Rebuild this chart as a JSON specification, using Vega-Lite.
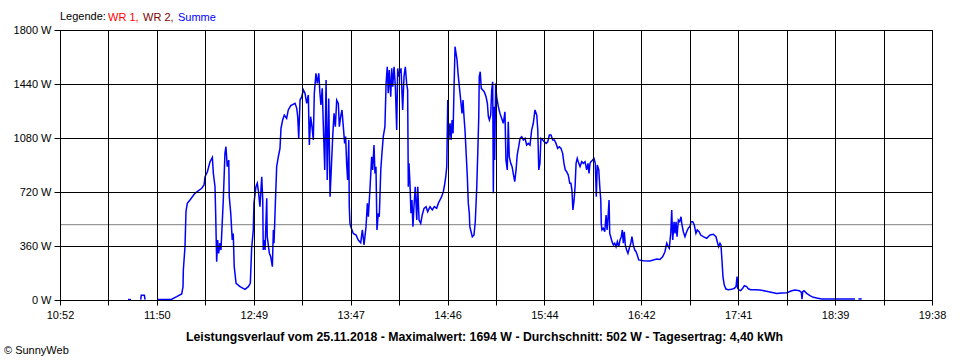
{
  "$schema": "https://vega.github.io/schema/vega-lite/v6.json",
  "width": 872,
  "height": 270,
  "autosize": {"type": "none"},
  "padding": {"left": 60, "top": 30, "right": 28, "bottom": 60},
  "background": "white",
  "config": {
    "view": {"stroke": "black", "strokeWidth": 1},
    "font": "Liberation Sans"
  },
  "title": {"text": "© SunnyWeb", "orient": "bottom", "anchor": "start", "frame": "group", "dx": -56, "offset": 3, "fontSize": 11, "fontWeight": "normal", "color": "black", "font": "Liberation Sans"},
  "layer": [
    {
      "data": {"values": [{"avg": 502}]},
      "mark": {"type": "rule", "color": "#808080", "strokeWidth": 1},
      "encoding": {"y": {"field": "avg", "type": "quantitative", "title": null}}
    },
    {
      "data": {"values": [
        {"minute":693.0,"watt":3,"seg":"a","series":"Summe"},
        {"minute":694.8,"watt":3,"seg":"a","series":"Summe"},
        {"minute":700.7,"watt":3,"seg":"b","series":"Summe"},
        {"minute":701.0,"watt":31,"seg":"b","series":"Summe"},
        {"minute":702.9,"watt":31,"seg":"b","series":"Summe"},
        {"minute":703.3,"watt":3,"seg":"b","series":"Summe"},
        {"minute":711.1,"watt":3,"seg":"c","series":"Summe"},
        {"minute":719.4,"watt":5,"seg":"c","series":"Summe"},
        {"minute":722.4,"watt":22,"seg":"c","series":"Summe"},
        {"minute":725.4,"watt":40,"seg":"c","series":"Summe"},
        {"minute":726.2,"watt":88,"seg":"c","series":"Summe"},
        {"minute":726.4,"watt":200,"seg":"c","series":"Summe"},
        {"minute":727.4,"watt":355,"seg":"c","series":"Summe"},
        {"minute":728.0,"watt":590,"seg":"c","series":"Summe"},
        {"minute":728.8,"watt":645,"seg":"c","series":"Summe"},
        {"minute":730.4,"watt":667,"seg":"c","series":"Summe"},
        {"minute":733.4,"watt":711,"seg":"c","series":"Summe"},
        {"minute":737.5,"watt":745,"seg":"c","series":"Summe"},
        {"minute":738.9,"watt":767,"seg":"c","series":"Summe"},
        {"minute":739.5,"watt":822,"seg":"c","series":"Summe"},
        {"minute":740.9,"watt":855,"seg":"c","series":"Summe"},
        {"minute":742.5,"watt":922,"seg":"c","series":"Summe"},
        {"minute":743.9,"watt":951,"seg":"c","series":"Summe"},
        {"minute":744.5,"watt":845,"seg":"c","series":"Summe"},
        {"minute":745.5,"watt":755,"seg":"c","series":"Summe"},
        {"minute":745.9,"watt":578,"seg":"c","series":"Summe"},
        {"minute":746.5,"watt":255,"seg":"c","series":"Summe"},
        {"minute":747.1,"watt":400,"seg":"c","series":"Summe"},
        {"minute":747.7,"watt":311,"seg":"c","series":"Summe"},
        {"minute":748.5,"watt":380,"seg":"c","series":"Summe"},
        {"minute":749.1,"watt":333,"seg":"c","series":"Summe"},
        {"minute":750.5,"watt":667,"seg":"c","series":"Summe"},
        {"minute":751.5,"watt":978,"seg":"c","series":"Summe"},
        {"minute":752.1,"watt":1022,"seg":"c","series":"Summe"},
        {"minute":752.9,"watt":889,"seg":"c","series":"Summe"},
        {"minute":753.8,"watt":933,"seg":"c","series":"Summe"},
        {"minute":754.1,"watt":689,"seg":"c","series":"Summe"},
        {"minute":755.0,"watt":578,"seg":"c","series":"Summe"},
        {"minute":755.9,"watt":400,"seg":"c","series":"Summe"},
        {"minute":756.5,"watt":444,"seg":"c","series":"Summe"},
        {"minute":757.1,"watt":222,"seg":"c","series":"Summe"},
        {"minute":758.2,"watt":111,"seg":"c","series":"Summe"},
        {"minute":760.6,"watt":89,"seg":"c","series":"Summe"},
        {"minute":763.6,"watt":71,"seg":"c","series":"Summe"},
        {"minute":765.6,"watt":89,"seg":"c","series":"Summe"},
        {"minute":766.8,"watt":111,"seg":"c","series":"Summe"},
        {"minute":767.6,"watt":344,"seg":"c","series":"Summe"},
        {"minute":768.6,"watt":467,"seg":"c","series":"Summe"},
        {"minute":769.0,"watt":644,"seg":"c","series":"Summe"},
        {"minute":770.2,"watt":755,"seg":"c","series":"Summe"},
        {"minute":771.0,"watt":778,"seg":"c","series":"Summe"},
        {"minute":771.6,"watt":733,"seg":"c","series":"Summe"},
        {"minute":772.6,"watt":622,"seg":"c","series":"Summe"},
        {"minute":773.7,"watt":822,"seg":"c","series":"Summe"},
        {"minute":774.3,"watt":667,"seg":"c","series":"Summe"},
        {"minute":774.6,"watt":333,"seg":"c","series":"Summe"},
        {"minute":775.2,"watt":400,"seg":"c","series":"Summe"},
        {"minute":775.7,"watt":333,"seg":"c","series":"Summe"},
        {"minute":776.7,"watt":678,"seg":"c","series":"Summe"},
        {"minute":777.0,"watt":422,"seg":"c","series":"Summe"},
        {"minute":778.3,"watt":311,"seg":"c","series":"Summe"},
        {"minute":779.1,"watt":289,"seg":"c","series":"Summe"},
        {"minute":780.1,"watt":222,"seg":"c","series":"Summe"},
        {"minute":780.7,"watt":467,"seg":"c","series":"Summe"},
        {"minute":781.1,"watt":378,"seg":"c","series":"Summe"},
        {"minute":781.9,"watt":644,"seg":"c","series":"Summe"},
        {"minute":782.7,"watt":889,"seg":"c","series":"Summe"},
        {"minute":783.7,"watt":955,"seg":"c","series":"Summe"},
        {"minute":784.7,"watt":1011,"seg":"c","series":"Summe"},
        {"minute":785.3,"watt":1144,"seg":"c","series":"Summe"},
        {"minute":786.3,"watt":1200,"seg":"c","series":"Summe"},
        {"minute":787.3,"watt":1233,"seg":"c","series":"Summe"},
        {"minute":788.7,"watt":1211,"seg":"c","series":"Summe"},
        {"minute":789.7,"watt":1267,"seg":"c","series":"Summe"},
        {"minute":791.2,"watt":1296,"seg":"c","series":"Summe"},
        {"minute":793.8,"watt":1311,"seg":"c","series":"Summe"},
        {"minute":794.8,"watt":1278,"seg":"c","series":"Summe"},
        {"minute":795.4,"watt":1222,"seg":"c","series":"Summe"},
        {"minute":796.0,"watt":1078,"seg":"c","series":"Summe"},
        {"minute":796.8,"watt":1333,"seg":"c","series":"Summe"},
        {"minute":797.8,"watt":1355,"seg":"c","series":"Summe"},
        {"minute":798.8,"watt":1400,"seg":"c","series":"Summe"},
        {"minute":799.8,"watt":1378,"seg":"c","series":"Summe"},
        {"minute":800.8,"watt":1311,"seg":"c","series":"Summe"},
        {"minute":801.8,"watt":1367,"seg":"c","series":"Summe"},
        {"minute":802.4,"watt":1033,"seg":"c","series":"Summe"},
        {"minute":803.2,"watt":1222,"seg":"c","series":"Summe"},
        {"minute":804.0,"watt":1156,"seg":"c","series":"Summe"},
        {"minute":804.8,"watt":1067,"seg":"c","series":"Summe"},
        {"minute":805.4,"watt":1378,"seg":"c","series":"Summe"},
        {"minute":806.4,"watt":1511,"seg":"c","series":"Summe"},
        {"minute":807.2,"watt":1444,"seg":"c","series":"Summe"},
        {"minute":808.1,"watt":1511,"seg":"c","series":"Summe"},
        {"minute":808.8,"watt":1378,"seg":"c","series":"Summe"},
        {"minute":809.4,"watt":1300,"seg":"c","series":"Summe"},
        {"minute":810.2,"watt":1411,"seg":"c","series":"Summe"},
        {"minute":810.8,"watt":1178,"seg":"c","series":"Summe"},
        {"minute":811.7,"watt":867,"seg":"c","series":"Summe"},
        {"minute":812.5,"watt":1467,"seg":"c","series":"Summe"},
        {"minute":813.2,"watt":800,"seg":"c","series":"Summe"},
        {"minute":814.1,"watt":1344,"seg":"c","series":"Summe"},
        {"minute":814.9,"watt":689,"seg":"c","series":"Summe"},
        {"minute":815.7,"watt":889,"seg":"c","series":"Summe"},
        {"minute":816.5,"watt":1089,"seg":"c","series":"Summe"},
        {"minute":817.3,"watt":1244,"seg":"c","series":"Summe"},
        {"minute":818.1,"watt":1156,"seg":"c","series":"Summe"},
        {"minute":818.9,"watt":1333,"seg":"c","series":"Summe"},
        {"minute":819.9,"watt":1311,"seg":"c","series":"Summe"},
        {"minute":820.5,"watt":1156,"seg":"c","series":"Summe"},
        {"minute":821.3,"watt":1222,"seg":"c","series":"Summe"},
        {"minute":822.1,"watt":1267,"seg":"c","series":"Summe"},
        {"minute":822.9,"watt":1156,"seg":"c","series":"Summe"},
        {"minute":823.7,"watt":1044,"seg":"c","series":"Summe"},
        {"minute":824.3,"watt":1089,"seg":"c","series":"Summe"},
        {"minute":824.9,"watt":911,"seg":"c","series":"Summe"},
        {"minute":825.5,"watt":800,"seg":"c","series":"Summe"},
        {"minute":826.2,"watt":1067,"seg":"c","series":"Summe"},
        {"minute":826.5,"watt":622,"seg":"c","series":"Summe"},
        {"minute":826.9,"watt":511,"seg":"c","series":"Summe"},
        {"minute":827.4,"watt":489,"seg":"c","series":"Summe"},
        {"minute":828.9,"watt":444,"seg":"c","series":"Summe"},
        {"minute":830.6,"watt":433,"seg":"c","series":"Summe"},
        {"minute":831.9,"watt":400,"seg":"c","series":"Summe"},
        {"minute":833.4,"watt":382,"seg":"c","series":"Summe"},
        {"minute":834.4,"watt":467,"seg":"c","series":"Summe"},
        {"minute":835.4,"watt":367,"seg":"c","series":"Summe"},
        {"minute":836.6,"watt":489,"seg":"c","series":"Summe"},
        {"minute":837.4,"watt":644,"seg":"c","series":"Summe"},
        {"minute":838.0,"watt":555,"seg":"c","series":"Summe"},
        {"minute":839.0,"watt":745,"seg":"c","series":"Summe"},
        {"minute":840.0,"watt":955,"seg":"c","series":"Summe"},
        {"minute":840.6,"watt":867,"seg":"c","series":"Summe"},
        {"minute":841.4,"watt":1033,"seg":"c","series":"Summe"},
        {"minute":842.0,"watt":844,"seg":"c","series":"Summe"},
        {"minute":842.6,"watt":889,"seg":"c","series":"Summe"},
        {"minute":843.2,"watt":467,"seg":"c","series":"Summe"},
        {"minute":844.0,"watt":578,"seg":"c","series":"Summe"},
        {"minute":844.6,"watt":555,"seg":"c","series":"Summe"},
        {"minute":845.5,"watt":867,"seg":"c","series":"Summe"},
        {"minute":846.2,"watt":978,"seg":"c","series":"Summe"},
        {"minute":847.0,"watt":1089,"seg":"c","series":"Summe"},
        {"minute":848.0,"watt":1156,"seg":"c","series":"Summe"},
        {"minute":848.7,"watt":1444,"seg":"c","series":"Summe"},
        {"minute":849.4,"watt":1555,"seg":"c","series":"Summe"},
        {"minute":850.0,"watt":1378,"seg":"c","series":"Summe"},
        {"minute":850.6,"watt":1533,"seg":"c","series":"Summe"},
        {"minute":851.5,"watt":1355,"seg":"c","series":"Summe"},
        {"minute":852.1,"watt":1544,"seg":"c","series":"Summe"},
        {"minute":852.7,"watt":1422,"seg":"c","series":"Summe"},
        {"minute":853.5,"watt":1555,"seg":"c","series":"Summe"},
        {"minute":854.3,"watt":1422,"seg":"c","series":"Summe"},
        {"minute":855.1,"watt":1133,"seg":"c","series":"Summe"},
        {"minute":855.7,"watt":1544,"seg":"c","series":"Summe"},
        {"minute":856.3,"watt":1489,"seg":"c","series":"Summe"},
        {"minute":856.7,"watt":1511,"seg":"c","series":"Summe"},
        {"minute":857.7,"watt":1544,"seg":"c","series":"Summe"},
        {"minute":858.7,"watt":1267,"seg":"c","series":"Summe"},
        {"minute":859.5,"watt":1489,"seg":"c","series":"Summe"},
        {"minute":860.3,"watt":1555,"seg":"c","series":"Summe"},
        {"minute":861.1,"watt":1444,"seg":"c","series":"Summe"},
        {"minute":861.7,"watt":1400,"seg":"c","series":"Summe"},
        {"minute":862.1,"watt":755,"seg":"c","series":"Summe"},
        {"minute":862.5,"watt":911,"seg":"c","series":"Summe"},
        {"minute":863.1,"watt":778,"seg":"c","series":"Summe"},
        {"minute":863.7,"watt":578,"seg":"c","series":"Summe"},
        {"minute":864.3,"watt":667,"seg":"c","series":"Summe"},
        {"minute":864.9,"watt":489,"seg":"c","series":"Summe"},
        {"minute":865.5,"watt":622,"seg":"c","series":"Summe"},
        {"minute":866.3,"watt":755,"seg":"c","series":"Summe"},
        {"minute":867.2,"watt":533,"seg":"c","series":"Summe"},
        {"minute":867.8,"watt":755,"seg":"c","series":"Summe"},
        {"minute":868.6,"watt":533,"seg":"c","series":"Summe"},
        {"minute":869.6,"watt":511,"seg":"c","series":"Summe"},
        {"minute":870.5,"watt":567,"seg":"c","series":"Summe"},
        {"minute":871.6,"watt":611,"seg":"c","series":"Summe"},
        {"minute":872.8,"watt":622,"seg":"c","series":"Summe"},
        {"minute":873.8,"watt":589,"seg":"c","series":"Summe"},
        {"minute":875.2,"watt":622,"seg":"c","series":"Summe"},
        {"minute":876.6,"watt":600,"seg":"c","series":"Summe"},
        {"minute":877.8,"watt":622,"seg":"c","series":"Summe"},
        {"minute":879.2,"watt":611,"seg":"c","series":"Summe"},
        {"minute":880.2,"watt":644,"seg":"c","series":"Summe"},
        {"minute":881.2,"watt":667,"seg":"c","series":"Summe"},
        {"minute":882.2,"watt":689,"seg":"c","series":"Summe"},
        {"minute":883.2,"watt":722,"seg":"c","series":"Summe"},
        {"minute":883.8,"watt":755,"seg":"c","series":"Summe"},
        {"minute":884.7,"watt":822,"seg":"c","series":"Summe"},
        {"minute":885.3,"watt":889,"seg":"c","series":"Summe"},
        {"minute":885.9,"watt":1333,"seg":"c","series":"Summe"},
        {"minute":886.5,"watt":1067,"seg":"c","series":"Summe"},
        {"minute":887.3,"watt":1178,"seg":"c","series":"Summe"},
        {"minute":887.9,"watt":1067,"seg":"c","series":"Summe"},
        {"minute":888.5,"watt":1200,"seg":"c","series":"Summe"},
        {"minute":889.1,"watt":1111,"seg":"c","series":"Summe"},
        {"minute":889.7,"watt":1422,"seg":"c","series":"Summe"},
        {"minute":890.3,"watt":1689,"seg":"c","series":"Summe"},
        {"minute":890.9,"watt":1644,"seg":"c","series":"Summe"},
        {"minute":891.5,"watt":1600,"seg":"c","series":"Summe"},
        {"minute":892.1,"watt":1511,"seg":"c","series":"Summe"},
        {"minute":892.7,"watt":1444,"seg":"c","series":"Summe"},
        {"minute":893.3,"watt":1378,"seg":"c","series":"Summe"},
        {"minute":893.9,"watt":1311,"seg":"c","series":"Summe"},
        {"minute":894.5,"watt":1244,"seg":"c","series":"Summe"},
        {"minute":895.1,"watt":1333,"seg":"c","series":"Summe"},
        {"minute":895.7,"watt":1222,"seg":"c","series":"Summe"},
        {"minute":896.3,"watt":1133,"seg":"c","series":"Summe"},
        {"minute":896.9,"watt":1000,"seg":"c","series":"Summe"},
        {"minute":897.7,"watt":822,"seg":"c","series":"Summe"},
        {"minute":898.3,"watt":644,"seg":"c","series":"Summe"},
        {"minute":898.9,"watt":578,"seg":"c","series":"Summe"},
        {"minute":899.2,"watt":489,"seg":"c","series":"Summe"},
        {"minute":899.7,"watt":467,"seg":"c","series":"Summe"},
        {"minute":900.7,"watt":422,"seg":"c","series":"Summe"},
        {"minute":901.7,"watt":433,"seg":"c","series":"Summe"},
        {"minute":902.5,"watt":522,"seg":"c","series":"Summe"},
        {"minute":903.4,"watt":755,"seg":"c","series":"Summe"},
        {"minute":904.0,"watt":978,"seg":"c","series":"Summe"},
        {"minute":904.6,"watt":1222,"seg":"c","series":"Summe"},
        {"minute":904.9,"watt":1489,"seg":"c","series":"Summe"},
        {"minute":905.5,"watt":1522,"seg":"c","series":"Summe"},
        {"minute":906.1,"watt":1411,"seg":"c","series":"Summe"},
        {"minute":907.0,"watt":1400,"seg":"c","series":"Summe"},
        {"minute":907.9,"watt":1389,"seg":"c","series":"Summe"},
        {"minute":909.0,"watt":1355,"seg":"c","series":"Summe"},
        {"minute":909.8,"watt":1311,"seg":"c","series":"Summe"},
        {"minute":910.4,"watt":1222,"seg":"c","series":"Summe"},
        {"minute":911.0,"watt":1200,"seg":"c","series":"Summe"},
        {"minute":911.8,"watt":1233,"seg":"c","series":"Summe"},
        {"minute":912.4,"watt":1400,"seg":"c","series":"Summe"},
        {"minute":913.0,"watt":1455,"seg":"c","series":"Summe"},
        {"minute":913.4,"watt":711,"seg":"c","series":"Summe"},
        {"minute":913.8,"watt":1289,"seg":"c","series":"Summe"},
        {"minute":914.2,"watt":933,"seg":"c","series":"Summe"},
        {"minute":914.8,"watt":1444,"seg":"c","series":"Summe"},
        {"minute":915.4,"watt":1355,"seg":"c","series":"Summe"},
        {"minute":916.4,"watt":1289,"seg":"c","series":"Summe"},
        {"minute":917.4,"watt":1244,"seg":"c","series":"Summe"},
        {"minute":918.4,"watt":1211,"seg":"c","series":"Summe"},
        {"minute":919.4,"watt":1178,"seg":"c","series":"Summe"},
        {"minute":920.4,"watt":1255,"seg":"c","series":"Summe"},
        {"minute":921.0,"watt":933,"seg":"c","series":"Summe"},
        {"minute":921.8,"watt":867,"seg":"c","series":"Summe"},
        {"minute":922.4,"watt":1189,"seg":"c","series":"Summe"},
        {"minute":923.0,"watt":955,"seg":"c","series":"Summe"},
        {"minute":923.9,"watt":911,"seg":"c","series":"Summe"},
        {"minute":924.7,"watt":889,"seg":"c","series":"Summe"},
        {"minute":925.4,"watt":844,"seg":"c","series":"Summe"},
        {"minute":926.3,"watt":789,"seg":"c","series":"Summe"},
        {"minute":927.1,"watt":867,"seg":"c","series":"Summe"},
        {"minute":927.8,"watt":967,"seg":"c","series":"Summe"},
        {"minute":928.7,"watt":1022,"seg":"c","series":"Summe"},
        {"minute":929.5,"watt":1078,"seg":"c","series":"Summe"},
        {"minute":930.5,"watt":1089,"seg":"c","series":"Summe"},
        {"minute":931.5,"watt":1067,"seg":"c","series":"Summe"},
        {"minute":932.5,"watt":1078,"seg":"c","series":"Summe"},
        {"minute":933.5,"watt":1033,"seg":"c","series":"Summe"},
        {"minute":934.5,"watt":1044,"seg":"c","series":"Summe"},
        {"minute":935.5,"watt":1033,"seg":"c","series":"Summe"},
        {"minute":936.5,"watt":1133,"seg":"c","series":"Summe"},
        {"minute":937.5,"watt":1178,"seg":"c","series":"Summe"},
        {"minute":938.5,"watt":1267,"seg":"c","series":"Summe"},
        {"minute":939.6,"watt":1233,"seg":"c","series":"Summe"},
        {"minute":940.2,"watt":1133,"seg":"c","series":"Summe"},
        {"minute":940.8,"watt":867,"seg":"c","series":"Summe"},
        {"minute":941.5,"watt":911,"seg":"c","series":"Summe"},
        {"minute":942.1,"watt":1078,"seg":"c","series":"Summe"},
        {"minute":943.2,"watt":1067,"seg":"c","series":"Summe"},
        {"minute":944.1,"watt":1055,"seg":"c","series":"Summe"},
        {"minute":945.2,"watt":1044,"seg":"c","series":"Summe"},
        {"minute":946.2,"watt":1055,"seg":"c","series":"Summe"},
        {"minute":947.2,"watt":1100,"seg":"c","series":"Summe"},
        {"minute":948.2,"watt":1100,"seg":"c","series":"Summe"},
        {"minute":949.2,"watt":1067,"seg":"c","series":"Summe"},
        {"minute":950.2,"watt":1067,"seg":"c","series":"Summe"},
        {"minute":951.2,"watt":1044,"seg":"c","series":"Summe"},
        {"minute":952.2,"watt":1011,"seg":"c","series":"Summe"},
        {"minute":953.2,"watt":1022,"seg":"c","series":"Summe"},
        {"minute":954.2,"watt":1011,"seg":"c","series":"Summe"},
        {"minute":955.2,"watt":978,"seg":"c","series":"Summe"},
        {"minute":956.0,"watt":911,"seg":"c","series":"Summe"},
        {"minute":956.8,"watt":867,"seg":"c","series":"Summe"},
        {"minute":957.6,"watt":855,"seg":"c","series":"Summe"},
        {"minute":958.6,"watt":833,"seg":"c","series":"Summe"},
        {"minute":959.5,"watt":778,"seg":"c","series":"Summe"},
        {"minute":960.2,"watt":778,"seg":"c","series":"Summe"},
        {"minute":960.8,"watt":733,"seg":"c","series":"Summe"},
        {"minute":961.4,"watt":600,"seg":"c","series":"Summe"},
        {"minute":962.1,"watt":667,"seg":"c","series":"Summe"},
        {"minute":962.7,"watt":755,"seg":"c","series":"Summe"},
        {"minute":963.3,"watt":911,"seg":"c","series":"Summe"},
        {"minute":964.0,"watt":944,"seg":"c","series":"Summe"},
        {"minute":964.9,"watt":911,"seg":"c","series":"Summe"},
        {"minute":965.7,"watt":889,"seg":"c","series":"Summe"},
        {"minute":966.7,"watt":922,"seg":"c","series":"Summe"},
        {"minute":967.7,"watt":911,"seg":"c","series":"Summe"},
        {"minute":968.7,"watt":922,"seg":"c","series":"Summe"},
        {"minute":969.7,"watt":867,"seg":"c","series":"Summe"},
        {"minute":970.5,"watt":911,"seg":"c","series":"Summe"},
        {"minute":971.1,"watt":844,"seg":"c","series":"Summe"},
        {"minute":971.7,"watt":911,"seg":"c","series":"Summe"},
        {"minute":972.3,"watt":922,"seg":"c","series":"Summe"},
        {"minute":973.3,"watt":933,"seg":"c","series":"Summe"},
        {"minute":974.1,"watt":944,"seg":"c","series":"Summe"},
        {"minute":974.9,"watt":911,"seg":"c","series":"Summe"},
        {"minute":975.5,"watt":689,"seg":"c","series":"Summe"},
        {"minute":976.1,"watt":900,"seg":"c","series":"Summe"},
        {"minute":977.0,"watt":867,"seg":"c","series":"Summe"},
        {"minute":977.6,"watt":755,"seg":"c","series":"Summe"},
        {"minute":978.2,"watt":667,"seg":"c","series":"Summe"},
        {"minute":978.5,"watt":511,"seg":"c","series":"Summe"},
        {"minute":978.9,"watt":467,"seg":"c","series":"Summe"},
        {"minute":979.7,"watt":478,"seg":"c","series":"Summe"},
        {"minute":980.6,"watt":455,"seg":"c","series":"Summe"},
        {"minute":981.4,"watt":567,"seg":"c","series":"Summe"},
        {"minute":982.0,"watt":467,"seg":"c","series":"Summe"},
        {"minute":982.6,"watt":555,"seg":"c","series":"Summe"},
        {"minute":983.2,"watt":667,"seg":"c","series":"Summe"},
        {"minute":983.6,"watt":444,"seg":"c","series":"Summe"},
        {"minute":984.2,"watt":422,"seg":"c","series":"Summe"},
        {"minute":985.0,"watt":389,"seg":"c","series":"Summe"},
        {"minute":985.8,"watt":367,"seg":"c","series":"Summe"},
        {"minute":986.6,"watt":378,"seg":"c","series":"Summe"},
        {"minute":987.4,"watt":355,"seg":"c","series":"Summe"},
        {"minute":988.2,"watt":389,"seg":"c","series":"Summe"},
        {"minute":989.0,"watt":355,"seg":"c","series":"Summe"},
        {"minute":989.8,"watt":400,"seg":"c","series":"Summe"},
        {"minute":990.6,"watt":422,"seg":"c","series":"Summe"},
        {"minute":991.2,"watt":467,"seg":"c","series":"Summe"},
        {"minute":991.8,"watt":378,"seg":"c","series":"Summe"},
        {"minute":992.4,"watt":455,"seg":"c","series":"Summe"},
        {"minute":993.0,"watt":367,"seg":"c","series":"Summe"},
        {"minute":993.8,"watt":333,"seg":"c","series":"Summe"},
        {"minute":994.6,"watt":311,"seg":"c","series":"Summe"},
        {"minute":995.4,"watt":345,"seg":"c","series":"Summe"},
        {"minute":996.3,"watt":378,"seg":"c","series":"Summe"},
        {"minute":997.0,"watt":422,"seg":"c","series":"Summe"},
        {"minute":997.8,"watt":367,"seg":"c","series":"Summe"},
        {"minute":998.7,"watt":333,"seg":"c","series":"Summe"},
        {"minute":999.5,"watt":322,"seg":"c","series":"Summe"},
        {"minute":1000.2,"watt":300,"seg":"c","series":"Summe"},
        {"minute":1001.1,"watt":267,"seg":"c","series":"Summe"},
        {"minute":1003.9,"watt":262,"seg":"c","series":"Summe"},
        {"minute":1007.9,"watt":260,"seg":"c","series":"Summe"},
        {"minute":1011.9,"watt":273,"seg":"c","series":"Summe"},
        {"minute":1013.9,"watt":270,"seg":"c","series":"Summe"},
        {"minute":1015.6,"watt":289,"seg":"c","series":"Summe"},
        {"minute":1016.9,"watt":322,"seg":"c","series":"Summe"},
        {"minute":1018.0,"watt":378,"seg":"c","series":"Summe"},
        {"minute":1018.9,"watt":355,"seg":"c","series":"Summe"},
        {"minute":1019.5,"watt":345,"seg":"c","series":"Summe"},
        {"minute":1020.4,"watt":444,"seg":"c","series":"Summe"},
        {"minute":1021.0,"watt":600,"seg":"c","series":"Summe"},
        {"minute":1021.6,"watt":400,"seg":"c","series":"Summe"},
        {"minute":1022.4,"watt":522,"seg":"c","series":"Summe"},
        {"minute":1023.0,"watt":444,"seg":"c","series":"Summe"},
        {"minute":1023.6,"watt":522,"seg":"c","series":"Summe"},
        {"minute":1024.2,"watt":422,"seg":"c","series":"Summe"},
        {"minute":1025.0,"watt":533,"seg":"c","series":"Summe"},
        {"minute":1025.8,"watt":522,"seg":"c","series":"Summe"},
        {"minute":1026.6,"watt":555,"seg":"c","series":"Summe"},
        {"minute":1027.2,"watt":500,"seg":"c","series":"Summe"},
        {"minute":1028.0,"watt":455,"seg":"c","series":"Summe"},
        {"minute":1029.0,"watt":422,"seg":"c","series":"Summe"},
        {"minute":1030.0,"watt":455,"seg":"c","series":"Summe"},
        {"minute":1031.0,"watt":478,"seg":"c","series":"Summe"},
        {"minute":1032.0,"watt":489,"seg":"c","series":"Summe"},
        {"minute":1032.6,"watt":522,"seg":"c","series":"Summe"},
        {"minute":1033.7,"watt":522,"seg":"c","series":"Summe"},
        {"minute":1034.6,"watt":500,"seg":"c","series":"Summe"},
        {"minute":1035.6,"watt":444,"seg":"c","series":"Summe"},
        {"minute":1036.4,"watt":467,"seg":"c","series":"Summe"},
        {"minute":1037.5,"watt":455,"seg":"c","series":"Summe"},
        {"minute":1038.5,"watt":433,"seg":"c","series":"Summe"},
        {"minute":1040.0,"watt":422,"seg":"c","series":"Summe"},
        {"minute":1042.1,"watt":411,"seg":"c","series":"Summe"},
        {"minute":1044.1,"watt":433,"seg":"c","series":"Summe"},
        {"minute":1046.1,"watt":438,"seg":"c","series":"Summe"},
        {"minute":1047.7,"watt":422,"seg":"c","series":"Summe"},
        {"minute":1048.7,"watt":378,"seg":"c","series":"Summe"},
        {"minute":1049.3,"watt":355,"seg":"c","series":"Summe"},
        {"minute":1050.1,"watt":378,"seg":"c","series":"Summe"},
        {"minute":1050.7,"watt":367,"seg":"c","series":"Summe"},
        {"minute":1051.3,"watt":267,"seg":"c","series":"Summe"},
        {"minute":1051.9,"watt":156,"seg":"c","series":"Summe"},
        {"minute":1052.7,"watt":100,"seg":"c","series":"Summe"},
        {"minute":1053.7,"watt":73,"seg":"c","series":"Summe"},
        {"minute":1055.1,"watt":69,"seg":"c","series":"Summe"},
        {"minute":1057.2,"watt":71,"seg":"c","series":"Summe"},
        {"minute":1058.8,"watt":78,"seg":"c","series":"Summe"},
        {"minute":1059.8,"watt":89,"seg":"c","series":"Summe"},
        {"minute":1060.4,"watt":156,"seg":"c","series":"Summe"},
        {"minute":1060.8,"watt":78,"seg":"c","series":"Summe"},
        {"minute":1061.6,"watt":67,"seg":"c","series":"Summe"},
        {"minute":1062.6,"watt":62,"seg":"c","series":"Summe"},
        {"minute":1063.8,"watt":78,"seg":"c","series":"Summe"},
        {"minute":1064.8,"watt":95,"seg":"c","series":"Summe"},
        {"minute":1066.2,"watt":89,"seg":"c","series":"Summe"},
        {"minute":1067.2,"watt":75,"seg":"c","series":"Summe"},
        {"minute":1068.6,"watt":69,"seg":"c","series":"Summe"},
        {"minute":1071.2,"watt":69,"seg":"c","series":"Summe"},
        {"minute":1074.2,"watt":67,"seg":"c","series":"Summe"},
        {"minute":1077.3,"watt":60,"seg":"c","series":"Summe"},
        {"minute":1080.3,"watt":53,"seg":"c","series":"Summe"},
        {"minute":1084.3,"watt":44,"seg":"c","series":"Summe"},
        {"minute":1087.3,"watt":47,"seg":"c","series":"Summe"},
        {"minute":1090.4,"watt":49,"seg":"c","series":"Summe"},
        {"minute":1093.4,"watt":62,"seg":"c","series":"Summe"},
        {"minute":1095.4,"watt":67,"seg":"c","series":"Summe"},
        {"minute":1098.0,"watt":62,"seg":"c","series":"Summe"},
        {"minute":1099.2,"watt":51,"seg":"c","series":"Summe"},
        {"minute":1099.6,"watt":5,"seg":"c","series":"Summe"},
        {"minute":1100.0,"watt":55,"seg":"c","series":"Summe"},
        {"minute":1100.8,"watt":62,"seg":"c","series":"Summe"},
        {"minute":1102.4,"watt":44,"seg":"c","series":"Summe"},
        {"minute":1104.4,"watt":29,"seg":"c","series":"Summe"},
        {"minute":1106.4,"watt":18,"seg":"c","series":"Summe"},
        {"minute":1108.5,"watt":13,"seg":"c","series":"Summe"},
        {"minute":1111.5,"watt":7,"seg":"c","series":"Summe"},
        {"minute":1131.6,"watt":7,"seg":"c","series":"Summe"},
        {"minute":1133.6,"watt":7,"seg":"d","series":"Summe"},
        {"minute":1135.6,"watt":7,"seg":"d","series":"Summe"}
      ]},
      "mark": {"type": "line", "strokeWidth": 1.5, "interpolate": "linear"},
      "encoding": {
        "x": {
          "field": "minute", "type": "quantitative",
          "scale": {"domain": [652, 1178], "nice": false, "zero": false},
          "axis": {
            "values": [652, 681.2222, 710.4444, 739.6667, 768.8889, 798.1111, 827.3333, 856.5556, 885.7778, 915, 944.2222, 973.4444, 1002.6667, 1031.8889, 1061.1111, 1090.3333, 1119.5556, 1148.7778, 1178],
            "labelExpr": "round((datum.value-652)/29.2222) % 2 == 1 ? '' : floor(floor(datum.value+0.3)/60) + ':' + (floor(datum.value+0.3) % 60 < 10 ? '0' : '') + (floor(datum.value+0.3) % 60)",
            "grid": true, "gridColor": "black", "gridOpacity": 1, "gridWidth": 1,
            "domainColor": "black", "tickColor": "black", "tickSize": 5,
            "labelFont": "Liberation Sans", "labelFontSize": 11, "labelColor": "black", "labelPadding": 4,
            "labelOverlap": false, "labelFlush": false,
            "title": "Leistungsverlauf vom 25.11.2018 - Maximalwert: 1694 W - Durchschnitt: 502 W - Tagesertrag: 4,40 kWh",
            "titleFont": "Liberation Sans", "titleFontSize": 12.3, "titleFontWeight": "bold", "titleColor": "black", "titlePadding": 10,
            "titleX": 424, "titleAlign": "center",
            "zindex": 1
          }
        },
        "y": {
          "field": "watt", "type": "quantitative",
          "scale": {"domain": [0, 1800], "nice": false, "zero": true},
          "axis": {
            "values": [0, 360, 720, 1080, 1440, 1800],
            "labelExpr": "datum.value + ' W'",
            "grid": true, "gridColor": "black", "gridOpacity": 1, "gridWidth": 1,
            "domainColor": "black", "tickColor": "black", "tickSize": 6,
            "labelFont": "Liberation Sans", "labelFontSize": 11, "labelColor": "black", "labelPadding": 3,
            "title": null, "zindex": 1
          }
        },
        "color": {
          "field": "series", "type": "nominal",
          "scale": {"domain": ["WR 1", "WR 2", "Summe"], "range": ["#ff0000", "#800000", "#0000ff"]},
          "legend": {
            "title": "Legende:", "orient": "none", "legendX": 0, "legendY": -18,
            "direction": "horizontal", "titleOrient": "left", "gridAlign": "none",
            "titleFont": "Liberation Sans", "titleFontSize": 11, "titleFontWeight": "normal", "titleColor": "black", "titlePadding": 3,
            "labelFont": "Liberation Sans", "labelFontSize": 11,
            "symbolSize": 0, "symbolOpacity": 0, "symbolStrokeWidth": 0,
            "labelOffset": -12, "columnPadding": 4,
            "labelExpr": "datum.value == 'Summe' ? datum.value : datum.value + ','",
            "encode": {"labels": {"update": {"fill": {"scale": "color", "field": "value"}}}}
          }
        },
        "detail": {"field": "seg", "type": "nominal"}
      }
    }
  ]
}
